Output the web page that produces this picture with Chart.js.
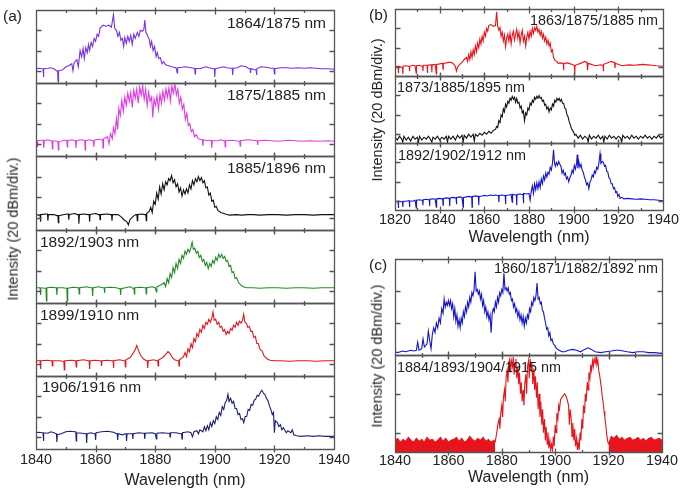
<!DOCTYPE html>
<html><head><meta charset="utf-8">
<script src="https://cdn.jsdelivr.net/npm/chart.js@4.4.1/dist/chart.umd.min.js"></script>
<style>
html,body{margin:0;padding:0;background:#fff}
#root{position:relative;width:685px;height:495px;overflow:hidden;font-family:"Liberation Sans",Arial,sans-serif;color:#222}
#root canvas{position:absolute}
.t{position:absolute;white-space:nowrap;line-height:1;transform:translateY(-50%)}
.t.r{transform:translate(-100%,-50%)}
.v{position:absolute;white-space:nowrap;line-height:1;transform:translate(-50%,-50%) rotate(-90deg)}
</style></head><body><div id="root"></div>
<script>
// ---------------- data (wavelength nm, intensity dBm) ----------------
const specA1 = [[1840,-58],[1841,-57.5],[1842,-58],[1842.35,-58],[1842.5,-66],[1842.65,-58],[1844,-57.5],[1845,-57],[1846,-58],[1847,-60],[1847.25,-60],[1847.4,-71],[1847.55,-60],[1849,-59],[1850,-56],[1851,-55],[1852,-53],[1852.4,-60],[1852.8,-52],[1853.7,-49],[1854.2,-56],[1854.8,-40],[1855.3,-46],[1855.8,-38],[1856.2,-48],[1856.7,-37],[1857.2,-42],[1857.6,-34],[1858,-40],[1858.5,-32],[1859,-36],[1859.5,-28],[1860,-31],[1860.5,-24],[1861,-26],[1861.5,-18],[1862.5,-15],[1863.5,-16],[1864.5,-15],[1865.3,-17],[1866,-4.5],[1866.4,-18],[1867,-20],[1867.5,-26],[1868,-22],[1868.5,-30],[1869,-28],[1869.4,-36],[1869.8,-27],[1870.3,-33],[1870.8,-26],[1871.3,-31],[1871.8,-25],[1872.3,-34],[1872.8,-24],[1873.3,-28],[1874,-22],[1874.5,-26],[1875,-20],[1875.7,-21],[1876.2,-19],[1876.5,-10],[1876.9,-22],[1877.4,-25],[1878,-29],[1878.4,-36],[1878.8,-31],[1879.3,-40],[1879.8,-36],[1880.3,-46],[1880.7,-42],[1881.2,-48],[1881.7,-47],[1882.3,-53],[1882.8,-51],[1883.5,-54],[1884.5,-55],[1885.5,-56],[1887,-57],[1887.25,-57],[1887.4,-62],[1887.55,-57],[1889,-56.5],[1890,-56],[1891,-56.5],[1892,-57],[1893,-57.5],[1893.25,-57.5],[1893.4,-63],[1893.55,-57.5],[1895,-58],[1896,-57],[1897,-56],[1898,-57],[1899.5,-58],[1899.85,-58],[1900,-66],[1900.15,-58],[1901.5,-57],[1903,-56],[1904,-57],[1905.5,-57.5],[1905.85,-57.5],[1906,-64],[1906.15,-57.5],[1907.5,-57],[1909,-55],[1910.5,-56],[1911.5,-58],[1911.85,-58],[1912,-62],[1912.15,-58],[1913.5,-59],[1913.85,-59],[1914,-64],[1914.15,-58],[1915.5,-56],[1917,-56.5],[1919,-57.5],[1919.85,-57.5],[1920,-63],[1920.15,-58],[1922,-57],[1924,-57],[1926,-57.5],[1928,-57],[1930,-57.5],[1932,-57],[1934,-57.5],[1936,-58],[1938,-58],[1940,-58.5]];
const specA2 = [[1840,-57],[1840.35,-57],[1840.5,-63],[1840.65,-57],[1842,-56.5],[1842.45,-56.5],[1842.6,-64],[1842.75,-57],[1844,-56],[1845,-57],[1845.35,-57],[1845.5,-65],[1845.65,-57],[1847,-57.5],[1847.35,-57.5],[1847.5,-66],[1847.65,-58],[1849,-57],[1850,-56.5],[1850.35,-56.5],[1850.5,-63],[1850.65,-57],[1852,-56],[1853,-57],[1853.25,-57],[1853.4,-64],[1853.55,-57],[1855,-56],[1856,-56.5],[1856.35,-56.5],[1856.5,-66],[1856.65,-57],[1858,-56],[1859,-57],[1859.25,-57],[1859.4,-63],[1859.55,-56.5],[1861,-55.5],[1862,-56],[1862.35,-56],[1862.5,-64],[1862.65,-55],[1864,-53],[1864.5,-60],[1865,-50],[1865.6,-55],[1866,-44],[1866.5,-50],[1867,-35],[1867.4,-46],[1867.8,-25],[1868.3,-32],[1868.8,-17],[1869.3,-28],[1869.8,-14],[1870.3,-22],[1870.8,-10],[1871.3,-18],[1871.8,-9],[1872.3,-24],[1872.8,-7],[1873.3,-15],[1873.8,-6],[1874.3,-20],[1874.8,-4],[1875.3,-12],[1875.8,-3],[1876.3,-16],[1876.8,-6],[1877.3,-22],[1877.8,-9],[1878.3,-18],[1878.8,-14],[1879.2,-34],[1879.6,-16],[1880.1,-22],[1880.6,-13],[1881.1,-26],[1881.6,-11],[1882.1,-20],[1882.6,-8],[1883.1,-17],[1883.6,-6],[1884.1,-14],[1884.6,-5],[1885.1,-18],[1885.6,-3],[1886.1,-10],[1886.6,-1],[1887.1,-12],[1887.6,-6],[1888.1,-20],[1888.6,-14],[1889.1,-26],[1889.6,-21],[1890.1,-36],[1890.6,-30],[1891.1,-42],[1891.6,-40],[1892.1,-48],[1892.6,-46],[1893.2,-53],[1893.8,-51],[1894.5,-55],[1895.5,-56],[1895.85,-56],[1896,-62],[1896.15,-56],[1897.5,-57],[1898.5,-56.5],[1898.85,-56.5],[1899,-64],[1899.15,-57],[1901,-57],[1902,-56],[1903,-57],[1903.35,-57],[1903.5,-63],[1903.65,-57],[1906,-56.5],[1907,-57],[1908,-57.5],[1908.35,-57.5],[1908.5,-62],[1908.65,-57],[1911,-56],[1913,-56.5],[1914,-57],[1914.25,-57],[1914.4,-61],[1914.55,-57],[1917,-56.5],[1919,-57],[1921,-57.5],[1923,-57],[1925,-56.5],[1927,-57],[1929,-57.5],[1932,-57],[1935,-57.5],[1938,-57],[1940,-57.5]];
const specA3 = [[1840,-57],[1841,-57.5],[1841.35,-57.5],[1841.5,-64],[1841.65,-57],[1843.5,-56.5],[1843.85,-56.5],[1844,-63],[1844.15,-57],[1846,-57],[1847,-58],[1847.35,-58],[1847.5,-65],[1847.65,-58],[1849.5,-57],[1850.5,-56.5],[1850.85,-56.5],[1851,-62],[1851.15,-57],[1853,-56],[1854,-57],[1854.25,-57],[1854.4,-66],[1854.55,-57],[1856,-56.5],[1857.5,-57],[1857.85,-57],[1858,-64],[1858.15,-57],[1860,-56],[1861,-57],[1861.35,-57],[1861.5,-62],[1861.65,-57],[1864,-56.5],[1865,-57],[1865.35,-57],[1865.5,-63],[1865.65,-57],[1867.5,-57],[1868.5,-59],[1869.5,-62],[1870.5,-64],[1871,-67],[1871.5,-62],[1872.5,-59],[1873.5,-57],[1873.85,-57],[1874,-63],[1874.15,-57],[1875.5,-56.5],[1876.5,-57],[1876.85,-57],[1877,-63],[1877.15,-56],[1878,-54],[1878.5,-50],[1879,-55],[1879.5,-44],[1880,-47],[1880.5,-36],[1881,-42],[1881.5,-30],[1882,-37],[1882.5,-27],[1883,-33],[1883.5,-25],[1884,-28],[1884.5,-22],[1885,-24],[1885.5,-19],[1886,-26],[1886.5,-23],[1887,-30],[1887.5,-27],[1888,-35],[1888.5,-31],[1889,-39],[1889.5,-33],[1890,-37],[1890.5,-32],[1891,-36],[1891.5,-28],[1892,-32],[1892.5,-24],[1893,-28],[1893.5,-22],[1894,-25],[1894.5,-20],[1895,-24],[1895.5,-21],[1896,-26],[1896.5,-24],[1897,-31],[1897.5,-30],[1898,-38],[1898.5,-36],[1899,-44],[1899.5,-43],[1900,-50],[1900.5,-49],[1901,-53],[1902,-55],[1903,-56],[1904,-57],[1905,-57.5],[1907,-57],[1909,-57.5],[1911,-57],[1913,-57],[1915,-57.5],[1918,-57],[1921,-57],[1924,-57.5],[1927,-57],[1930,-57],[1933,-57.5],[1936,-57],[1940,-57]];
const specA4 = [[1840,-57],[1841,-57],[1841.35,-57],[1841.5,-64],[1841.65,-57],[1843,-57.5],[1843.35,-57.5],[1843.5,-70],[1843.65,-57],[1845.5,-56.5],[1846.5,-57],[1846.85,-57],[1847,-64],[1847.15,-57],[1849,-57],[1850,-57.5],[1850.35,-57.5],[1850.5,-70],[1850.65,-57.5],[1852.5,-56.5],[1854,-57],[1854.35,-57],[1854.5,-63],[1854.65,-57],[1857,-56],[1858.5,-57],[1858.85,-57],[1859,-65],[1859.15,-57],[1861,-56],[1862.5,-57],[1862.85,-57],[1863,-62],[1863.15,-57],[1865,-56.5],[1867,-57],[1868,-58],[1868.25,-58],[1868.4,-64],[1868.55,-58],[1870,-57],[1871.5,-56],[1872.5,-57.5],[1872.85,-57.5],[1873,-63],[1873.15,-57],[1875,-56.5],[1876.5,-57],[1876.85,-57],[1877,-63],[1877.15,-57],[1879,-56],[1880,-57],[1880.25,-57],[1880.4,-61],[1880.55,-56],[1882,-54],[1883,-52],[1883.5,-56],[1884,-48],[1884.5,-52],[1885,-43],[1885.5,-47],[1886,-37],[1886.5,-42],[1887,-33],[1887.5,-38],[1888,-29],[1888.5,-33],[1889,-25],[1889.5,-28],[1890,-21],[1890.5,-24],[1891,-19],[1891.5,-22],[1892,-17],[1892.4,-12],[1892.8,-19],[1893.3,-18],[1893.8,-23],[1894.3,-21],[1894.8,-27],[1895.3,-25],[1895.8,-31],[1896.3,-29],[1896.8,-35],[1897.3,-32],[1897.8,-38],[1898.3,-33],[1898.8,-36],[1899.3,-30],[1899.8,-33],[1900.3,-27],[1900.8,-30],[1901.3,-24],[1901.8,-27],[1902.3,-24],[1902.8,-28],[1903.3,-26],[1903.8,-31],[1904.3,-30],[1904.8,-36],[1905.3,-35],[1905.8,-42],[1906.3,-41],[1906.8,-48],[1907.3,-47],[1908,-52],[1909,-55],[1910,-56.5],[1911,-57],[1913,-57],[1915,-57.5],[1918,-57],[1921,-57],[1924,-57.5],[1927,-57],[1930,-57],[1933,-57.5],[1936,-57],[1940,-57]];
const specA5 = [[1840,-57],[1841,-57],[1841.35,-57],[1841.5,-65],[1841.65,-57],[1844,-56.5],[1845,-57],[1845.35,-57],[1845.5,-62],[1845.65,-57],[1848,-57],[1849,-57.5],[1849.35,-57.5],[1849.5,-66],[1849.65,-57],[1852,-56.5],[1853,-57],[1853.35,-57],[1853.5,-63],[1853.65,-57],[1856,-56],[1857.5,-57],[1857.85,-57],[1858,-65],[1858.15,-57],[1860,-56.5],[1861.5,-57],[1861.85,-57],[1862,-62],[1862.15,-57],[1864,-56.5],[1865.5,-57],[1865.85,-57],[1866,-64],[1866.15,-57],[1868,-56],[1869.5,-57],[1869.85,-57],[1870,-63],[1870.15,-56],[1871.5,-54],[1872.5,-50],[1873.3,-46],[1873.8,-42],[1874.3,-46],[1875,-51],[1876,-55],[1877,-57],[1877.35,-57],[1877.5,-64],[1877.65,-57],[1879.5,-56],[1880.5,-57],[1880.85,-57],[1881,-62],[1881.15,-56],[1882.5,-54],[1883.5,-51],[1884.3,-48],[1885,-50],[1885.8,-54],[1886.5,-56],[1887.5,-57],[1887.85,-57],[1888,-62],[1888.15,-56],[1889.5,-53],[1890,-49],[1890.5,-53],[1891,-45],[1891.5,-48],[1892,-40],[1892.5,-44],[1893,-35],[1893.5,-38],[1894,-30],[1894.5,-33],[1895,-26],[1895.5,-29],[1896,-22],[1896.5,-25],[1897,-19],[1897.5,-21],[1898,-16],[1898.5,-19],[1899,-15],[1899.4,-9],[1899.8,-17],[1900.3,-16],[1900.8,-21],[1901.3,-19],[1901.8,-24],[1902.3,-23],[1902.8,-28],[1903.3,-26],[1903.8,-31],[1904.3,-28],[1904.8,-30],[1905.3,-25],[1905.8,-27],[1906.3,-22],[1906.8,-24],[1907.3,-19],[1907.8,-22],[1908.3,-18],[1908.8,-20],[1909.3,-17],[1909.7,-11],[1910.1,-19],[1910.6,-20],[1911.1,-24],[1911.6,-23],[1912.1,-28],[1912.6,-28],[1913.1,-34],[1913.6,-33],[1914.1,-40],[1914.6,-40],[1915.2,-46],[1915.8,-47],[1916.5,-52],[1917.5,-55],[1918.5,-56.5],[1920,-57],[1922,-57],[1925,-57.5],[1928,-57],[1931,-57],[1934,-57.5],[1937,-57],[1940,-57]];
const specA6 = [[1840,-56],[1841,-55.5],[1842,-56],[1842.35,-56],[1842.5,-64],[1842.65,-56],[1844,-56.5],[1845,-55],[1846,-56],[1846.85,-57],[1847,-65],[1847.15,-58],[1848.5,-57],[1850,-55],[1851.5,-54.5],[1853,-55],[1853.35,-55],[1853.5,-64],[1853.65,-56],[1855.5,-56.5],[1856.5,-57],[1856.85,-57],[1857,-66],[1857.15,-57],[1858.5,-56],[1859.5,-57],[1859.85,-57],[1860,-63],[1860.15,-56],[1862,-55],[1864,-54.5],[1866,-55.5],[1867,-57],[1867.25,-57],[1867.4,-63],[1867.55,-57],[1869,-58],[1870,-57],[1870.25,-57],[1870.4,-64],[1870.55,-57],[1872,-57],[1872.35,-57],[1872.5,-62],[1872.65,-57],[1874.5,-56],[1876,-56.5],[1876.35,-56.5],[1876.5,-62],[1876.65,-56.5],[1879,-56],[1880,-57],[1880.25,-57],[1880.4,-62],[1880.55,-56.5],[1882.5,-56],[1884,-56.5],[1884.85,-56.5],[1885,-60],[1885.15,-56],[1887,-56],[1888.5,-57],[1888.85,-57],[1889,-62],[1889.15,-56],[1891,-55],[1892,-56],[1892.5,-60],[1893,-55],[1894,-54],[1894.5,-57],[1895,-53],[1896,-55],[1896.5,-50],[1897,-54],[1897.5,-49],[1898,-53],[1898.5,-46],[1899,-50],[1899.5,-44],[1900,-47],[1900.5,-40],[1901,-43],[1901.5,-36],[1902,-39],[1902.5,-30],[1903,-33],[1903.5,-26],[1904,-24],[1904.4,-18],[1904.8,-25],[1905.3,-22],[1905.8,-27],[1906.3,-25],[1906.8,-32],[1907.3,-32],[1907.8,-38],[1908.3,-37],[1908.8,-43],[1909.3,-42],[1909.7,-46],[1910.2,-40],[1910.7,-40],[1911.2,-33],[1911.7,-34],[1912.2,-28],[1912.7,-29],[1913.2,-24],[1913.7,-23],[1914.2,-19],[1914.7,-20],[1915.3,-16],[1915.8,-14],[1916.3,-17],[1916.8,-18],[1917.3,-22],[1917.8,-24],[1918.3,-29],[1918.8,-33],[1919.3,-38],[1919.7,-36],[1920,-56],[1920.3,-44],[1921,-46],[1921.5,-50],[1922,-48],[1922.5,-53],[1923,-51],[1924,-56],[1924.5,-54],[1925.5,-56],[1926,-53],[1926.5,-58],[1927.5,-59],[1929,-59.5],[1931,-59],[1933,-59.5],[1935,-59],[1937,-59.5],[1940,-59.5]];

const specB1 = [[1820,-60],[1821,-59],[1821.35,-59],[1821.5,-66],[1821.65,-59],[1823,-60],[1823.35,-60],[1823.5,-67],[1823.65,-59],[1825,-58.5],[1826,-59],[1826.35,-59],[1826.5,-64],[1826.65,-59],[1828,-58],[1829,-58.5],[1829.35,-58.5],[1829.5,-66],[1829.65,-58.5],[1831,-58],[1832,-59],[1832.35,-59],[1832.5,-64],[1832.65,-58],[1834,-58],[1834.35,-58],[1834.5,-66],[1834.65,-58],[1836,-57.5],[1836.35,-57.5],[1836.5,-65],[1836.65,-57.5],[1838,-57],[1838.35,-57],[1838.5,-67],[1838.65,-57],[1840,-56.5],[1841,-56],[1841.35,-56],[1841.5,-62],[1841.65,-56],[1843,-55.5],[1844,-55],[1845,-55],[1846,-56],[1847,-59],[1847.5,-64],[1848,-60],[1849,-57],[1850,-55],[1851,-52],[1852,-50],[1852.5,-54],[1853,-47],[1853.5,-52],[1854,-44],[1854.5,-50],[1855,-42],[1855.5,-47],[1856,-38],[1856.5,-44],[1857,-35],[1857.5,-40],[1858,-31],[1858.5,-36],[1859,-28],[1859.5,-33],[1860,-24],[1860.5,-28],[1861,-20],[1861.5,-23],[1862,-17],[1863,-16],[1864,-18],[1865,-17],[1865.5,-3],[1866,-18],[1866.5,-22],[1867,-19],[1867.5,-28],[1868,-24],[1868.5,-33],[1869,-27],[1869.5,-39],[1870,-30],[1870.5,-26],[1871,-33],[1871.5,-25],[1872,-36],[1872.5,-27],[1873,-23],[1873.5,-32],[1874,-26],[1874.5,-21],[1875,-30],[1875.5,-24],[1876,-35],[1876.5,-27],[1877,-22],[1877.5,-33],[1878,-28],[1878.5,-38],[1879,-29],[1879.5,-24],[1880,-31],[1880.5,-23],[1881,-28],[1881.5,-20],[1882,-25],[1882.5,-19],[1883,-22],[1883.5,-18],[1884,-24],[1884.5,-21],[1885,-27],[1885.5,-23],[1886,-30],[1886.5,-26],[1887,-33],[1887.5,-29],[1888,-36],[1888.5,-32],[1889,-38],[1889.5,-35],[1890,-44],[1890.5,-42],[1891,-50],[1891.6,-53],[1892.5,-54],[1893,-56],[1894,-55.5],[1895,-56],[1895.35,-56],[1895.5,-63],[1895.65,-56],[1897,-55.5],[1898,-56],[1899,-57],[1900,-58],[1900.35,-58],[1900.5,-67],[1900.65,-58],[1902,-57],[1903,-56],[1904,-55],[1905,-54],[1906,-55],[1906.15,-55],[1906.3,-63],[1906.45,-56],[1908,-57],[1909,-58],[1910,-58.5],[1911,-58],[1912,-57.5],[1913,-58],[1913.15,-58],[1913.3,-64],[1913.45,-57],[1915,-55.5],[1916,-54.5],[1917,-54],[1918,-55],[1918.35,-55],[1918.5,-61],[1918.65,-56],[1920,-57],[1921,-58],[1922,-58.5],[1923,-58],[1925,-57.5],[1927,-58],[1929,-57.5],[1931,-57],[1933,-57.5],[1935,-58],[1937,-58.5],[1940,-59]];
const specB2 = [[1820,-63],[1821,-66],[1822,-62],[1823,-65],[1823.5,-68],[1824,-62],[1825,-66],[1826,-63],[1827,-67],[1828,-62],[1829,-65],[1830,-63],[1830.5,-68],[1831,-62],[1832,-66],[1833,-63],[1834,-65],[1835,-62],[1836,-66],[1836.5,-68],[1837,-63],[1838,-65],[1839,-62],[1840,-66],[1841,-63],[1842,-65],[1843,-62],[1843.5,-68],[1844,-62],[1845,-65],[1846,-62],[1847,-66],[1848,-61],[1849,-64],[1850,-61],[1850.5,-68],[1851,-61],[1852,-64],[1853,-60],[1854,-63],[1855,-60],[1855.5,-67],[1856,-60],[1857,-62],[1858,-59],[1859,-61],[1860,-58],[1861,-60],[1862,-57],[1863,-59],[1864,-56],[1865,-55],[1865.5,-52],[1866,-53],[1866.5,-46],[1867,-48],[1867.5,-40],[1868,-42],[1868.5,-34],[1869,-37],[1869.5,-29],[1870,-32],[1870.5,-26],[1871,-28],[1871.5,-23],[1872,-25],[1872.5,-21],[1873,-24],[1873.5,-22],[1874,-27],[1874.5,-23],[1875,-28],[1875.5,-27],[1876,-33],[1876.5,-31],[1877,-38],[1877.5,-36],[1878,-46],[1878.5,-38],[1879,-40],[1879.5,-33],[1880,-35],[1880.5,-28],[1881,-30],[1881.5,-25],[1882,-27],[1882.5,-22],[1883,-24],[1883.5,-21],[1884,-23],[1884.5,-20],[1885,-23],[1885.5,-22],[1886,-26],[1886.5,-25],[1887,-30],[1887.5,-29],[1888,-34],[1888.5,-32],[1889,-37],[1889.5,-33],[1890,-35],[1890.5,-29],[1891,-31],[1891.5,-25],[1892,-27],[1892.5,-23],[1893,-25],[1893.5,-23],[1894,-26],[1894.5,-24],[1895,-28],[1895.5,-28],[1896,-33],[1896.5,-34],[1897,-40],[1897.5,-42],[1898,-47],[1898.5,-50],[1899,-54],[1899.5,-56],[1900,-58],[1900.5,-61],[1901,-60],[1902,-64],[1903,-61],[1904,-65],[1905,-62],[1906,-64],[1906.5,-68],[1907,-61],[1908,-65],[1909,-62],[1910,-64],[1911,-61],[1912,-65],[1913,-62],[1913.5,-68],[1914,-62],[1915,-65],[1916,-61],[1917,-64],[1918,-62],[1919,-65],[1920,-62],[1921,-64],[1921.5,-68],[1922,-61],[1923,-64],[1924,-62],[1925,-65],[1926,-61],[1927,-64],[1928,-62],[1929,-65],[1930,-62],[1931,-64],[1932,-61],[1933,-64],[1934,-62],[1935,-65],[1936,-62],[1937,-64],[1938,-61],[1939,-64],[1940,-62]];
const specB3 = [[1820,-61],[1821,-60],[1821.35,-60],[1821.5,-67],[1821.65,-60],[1823,-60.5],[1823.35,-60.5],[1823.5,-66],[1823.65,-60],[1825,-60],[1826,-59.5],[1826.35,-59.5],[1826.5,-66],[1826.65,-59.5],[1828,-60],[1829,-59],[1829.35,-59],[1829.5,-67],[1829.65,-59],[1831,-58.5],[1832,-59],[1832.35,-59],[1832.5,-64],[1832.65,-58.5],[1834,-58],[1835,-58.5],[1835.35,-58.5],[1835.5,-65],[1835.65,-58],[1837,-57.5],[1838,-58],[1838.35,-58],[1838.5,-66],[1838.65,-57.5],[1840,-57],[1841,-57.5],[1841.35,-57.5],[1841.5,-64],[1841.65,-57],[1843,-56.5],[1844,-57],[1844.35,-57],[1844.5,-65],[1844.65,-56.5],[1846,-56],[1847,-56.5],[1847.35,-56.5],[1847.5,-63],[1847.65,-56],[1849,-55.5],[1850,-56],[1850.35,-56],[1850.5,-66],[1850.65,-56],[1852,-55.5],[1853,-55],[1854,-55.5],[1854.35,-55.5],[1854.5,-66],[1854.65,-55],[1856,-54.5],[1857,-55],[1857.35,-55],[1857.5,-64],[1857.65,-55],[1859,-54.5],[1860,-54],[1861,-54.5],[1862,-54],[1863,-53.5],[1864,-54],[1865,-53.5],[1866,-54],[1866.35,-54],[1866.5,-61],[1866.65,-54],[1868,-53.5],[1869,-54],[1869.35,-54],[1869.5,-63],[1869.65,-54],[1871,-53.5],[1872,-53],[1872.35,-53],[1872.5,-61],[1872.65,-53],[1874,-53.5],[1874.35,-53.5],[1874.5,-64],[1874.65,-53],[1876,-52.5],[1877,-53],[1877.35,-53],[1877.5,-62],[1877.65,-52],[1879,-52.5],[1880,-52],[1880.5,-59],[1881,-50],[1881.5,-44],[1882,-52],[1882.5,-42],[1883,-48],[1883.5,-41],[1884,-47],[1884.5,-40],[1885,-46],[1885.5,-37],[1886,-42],[1886.5,-34],[1887,-38],[1887.5,-31],[1888,-35],[1888.5,-30],[1889,-32],[1889.5,-25],[1890,-28],[1890.5,-21],[1891,-7],[1891.4,-20],[1891.8,-24],[1892.3,-20],[1892.8,-23],[1893.3,-19],[1893.8,-22],[1894.3,-24],[1894.8,-31],[1895.3,-28],[1895.8,-33],[1896.3,-31],[1896.8,-37],[1897.3,-35],[1897.8,-40],[1898.3,-36],[1898.8,-33],[1899.3,-28],[1899.8,-31],[1900.3,-23],[1900.8,-27],[1901.3,-21],[1901.6,-12],[1901.9,-26],[1902.3,-19],[1902.8,-25],[1903.3,-22],[1903.8,-28],[1904.3,-30],[1904.8,-35],[1905.3,-38],[1905.8,-43],[1906.3,-41],[1906.8,-47],[1907.3,-40],[1907.8,-38],[1908.3,-33],[1908.8,-35],[1909.3,-29],[1909.8,-31],[1910.3,-25],[1910.8,-27],[1911.3,-21],[1911.8,-11],[1912.2,-21],[1912.8,-19],[1913.3,-20],[1913.8,-24],[1914.3,-23],[1914.8,-29],[1915.3,-30],[1915.8,-36],[1916.3,-37],[1916.8,-42],[1917.3,-42],[1917.8,-47],[1918.3,-46],[1918.8,-51],[1919.3,-50],[1919.8,-55],[1920.3,-53],[1920.8,-57],[1921.5,-56],[1922.5,-57.5],[1924,-57],[1926,-57.5],[1928,-58],[1930,-57.5],[1932,-58],[1934,-58.5],[1936,-58.5],[1938,-59],[1940,-59.5]];

const specC1 = [[1840,-58],[1841,-58.5],[1842,-58],[1843,-57.5],[1844,-58],[1845,-57.5],[1846,-57],[1847,-57.5],[1848,-57],[1848.5,-52],[1849,-57],[1850,-56],[1850.5,-50],[1851,-55],[1852,-53],[1852.5,-45],[1853,-51],[1853.5,-56],[1854,-47],[1854.5,-43],[1855,-46],[1855.5,-40],[1856,-43],[1856.5,-37],[1857,-40],[1857.5,-31],[1858,-34],[1858.4,-25],[1858.8,-30],[1859.2,-27],[1859.6,-29],[1860,-26],[1860.4,-29],[1860.8,-26],[1861.2,-31],[1861.6,-28],[1862,-36],[1862.4,-31],[1862.8,-39],[1863.2,-35],[1863.6,-42],[1864,-38],[1864.4,-43],[1864.8,-37],[1865.2,-40],[1865.6,-33],[1866,-36],[1866.4,-30],[1866.8,-33],[1867.2,-27],[1867.6,-30],[1868,-24],[1868.4,-27],[1868.8,-21],[1869.2,-23],[1869.6,-19],[1870,-8],[1870.4,-20],[1870.8,-19],[1871.2,-22],[1871.6,-20],[1872,-25],[1872.4,-22],[1872.8,-29],[1873.2,-26],[1873.6,-33],[1874,-30],[1874.4,-36],[1874.8,-33],[1875.2,-38],[1875.6,-35],[1876,-46],[1876.4,-34],[1876.8,-31],[1877.2,-33],[1877.6,-27],[1878,-30],[1878.4,-24],[1878.8,-27],[1879.2,-21],[1879.6,-23],[1880,-19],[1880.4,-21],[1880.8,-9],[1881.2,-19],[1881.6,-18],[1882,-20],[1882.4,-18],[1882.8,-22],[1883.2,-21],[1883.6,-26],[1884,-25],[1884.4,-30],[1884.8,-28],[1885.2,-33],[1885.6,-31],[1886,-36],[1886.4,-33],[1886.8,-38],[1887.2,-35],[1887.6,-40],[1888,-36],[1888.4,-42],[1888.8,-37],[1889.2,-40],[1889.6,-35],[1890,-37],[1890.4,-31],[1890.8,-33],[1891.2,-27],[1891.6,-29],[1892,-24],[1892.4,-26],[1892.8,-23],[1893.2,-15],[1893.6,-25],[1894,-24],[1894.4,-28],[1894.8,-27],[1895.2,-32],[1895.6,-33],[1896,-37],[1896.4,-40],[1896.8,-44],[1897.2,-43],[1897.6,-48],[1898,-46],[1898.4,-51],[1898.8,-50],[1899.3,-53],[1899.8,-54],[1900.5,-56],[1901.5,-57],[1902.5,-58],[1903.5,-58],[1905,-57],[1906.5,-56.5],[1908,-57],[1909.5,-58],[1911,-56.5],[1912.3,-55.5],[1913.5,-56.5],[1915,-58],[1917,-58.5],[1919,-58],[1921,-57.5],[1922.5,-57],[1924,-57],[1925.5,-57.5],[1927,-58],[1929,-58.5],[1931,-58],[1933,-58],[1935,-58.5],[1937,-58.5],[1940,-59]];
const floorC2Left = [[1840,-44],[1841,-43],[1842,-45],[1843,-43.5],[1844,-44.5],[1845,-42.5],[1846,-44],[1847,-45],[1848,-43],[1849,-44.5],[1850,-43.5],[1851,-45],[1852,-42.5],[1853,-44],[1854,-43.5],[1855,-45],[1856,-44],[1857,-42.5],[1858,-44.5],[1859,-43],[1860,-45],[1861,-44],[1862,-43.5],[1863,-42.5],[1864,-44.5],[1865,-43],[1866,-45],[1867,-44],[1868,-42],[1869,-43.5],[1870,-44.5],[1871,-43],[1872,-44],[1873,-42.5],[1874,-44.5],[1875,-43.5],[1876,-45],[1877,-44],[1877.5,-45]];
const specC2 = [[1877.5,-45],[1878,-41],[1878.5,-36],[1879,-33],[1879.3,-38],[1879.6,-30],[1880,-26],[1880.3,-32],[1880.6,-22],[1881,-18],[1881.3,-24],[1881.6,-12],[1882,-8],[1882.3,-14],[1882.6,-4],[1883,-2],[1883.3,-9],[1883.6,-3],[1884,-6],[1884.3,-1],[1884.6,-10],[1885,-4],[1885.3,-2],[1885.6,-12],[1886,-6],[1886.3,-15],[1886.6,-9],[1887,-20],[1887.3,-14],[1887.6,-24],[1888,-18],[1888.3,-26],[1888.6,-15],[1889,-10],[1889.3,-20],[1889.6,-6],[1890,-3],[1890.3,-12],[1890.6,-2],[1891,-8],[1891.3,-4],[1891.6,-15],[1892,-7],[1892.3,-18],[1892.6,-11],[1893,-22],[1893.3,-14],[1893.6,-28],[1894,-20],[1894.3,-32],[1894.6,-24],[1895,-36],[1895.3,-28],[1895.6,-40],[1896,-33],[1896.3,-44],[1896.6,-37],[1897,-46],[1897.3,-40],[1897.6,-48],[1898,-44],[1898.3,-49],[1898.6,-46],[1899,-49],[1899.3,-42],[1899.6,-47],[1900,-36],[1900.3,-40],[1900.6,-30],[1901,-33],[1901.3,-26],[1901.6,-28],[1902,-23],[1902.5,-22],[1903,-21],[1903.5,-20],[1904,-21],[1904.5,-23],[1905,-26],[1905.3,-36],[1905.6,-28],[1906,-33],[1906.3,-42],[1906.6,-35],[1907,-44],[1907.3,-38],[1907.6,-47],[1908,-43],[1908.3,-49],[1908.6,-45],[1909,-49],[1909.3,-40],[1909.6,-44],[1910,-33],[1910.3,-38],[1910.6,-26],[1911,-30],[1911.3,-20],[1911.6,-24],[1912,-14],[1912.3,-18],[1912.6,-9],[1913,-12],[1913.3,-5],[1913.6,-8],[1914,-3],[1914.3,-6],[1914.6,-2],[1915,-4],[1915.3,-1],[1915.6,-5],[1916,-3],[1916.3,-8],[1916.6,-10],[1917,-14],[1917.3,-17],[1917.6,-21],[1918,-25],[1918.3,-29],[1918.6,-32],[1919,-37],[1919.3,-41],[1919.6,-44],[1920,-46]];
const floorC2Right = [[1920,-46],[1921,-42],[1922,-43],[1923,-41.5],[1924,-43.5],[1925,-42.5],[1926,-44],[1927,-43],[1928,-42.5],[1929,-44],[1930,-43.5],[1931,-42.5],[1932,-44],[1933,-43],[1934,-44.5],[1935,-43],[1936,-42.5],[1937,-44],[1938,-43.5],[1939,-43],[1940,-44]];

// labels / ticks
const labelsA = ['1864/1875 nm','1875/1885 nm','1885/1896 nm','1892/1903 nm','1899/1910 nm','1906/1916 nm'];
const labelsB = ['1863/1875/1885 nm','1873/1885/1895 nm','1892/1902/1912 nm'];
const labelsC = ['1860/1871/1882/1892 nm','1884/1893/1904/1915 nm'];
const panelTags = ['(a)','(b)','(c)'];
const xMajorA = [1840,1860,1880,1900,1920,1940];
const xMinorA = [1850,1870,1890,1910,1930];
const xMajorB = [1820,1840,1860,1880,1900,1920,1940];
const xMinorB = [1830,1850,1870,1890,1910,1930];
const yTicksAB = [-60,-40,-20];
const yTicksC = [-40,-20];
const xTitle = 'Wavelength (nm)';
const yTitle = 'Intensity (20 dBm/div.)';

// ---------------- styling / layout ----------------
const FONT = '"Liberation Sans", Arial, sans-serif';
Chart.defaults.font.family = FONT;
const FRAME = '#555';
const COL = {purple:'#7a2fe3', magenta:'#e03ae6', black:'#111', green:'#238a23', red:'#e8141c', navy:'#1c1f78', blue:'#1515cc'};
const PADX = 26, PADT = 5;
const root = document.getElementById('root');

const framePlugin = {
  id: 'frame',
  afterDatasetsDraw(chart, args, o) {
    const {ctx, chartArea: a, scales: {x, y}} = chart;
    ctx.save();
    ctx.strokeStyle = FRAME; ctx.lineWidth = 1.3;
    const L = Math.round(a.left) + 0.5, R = Math.round(a.right) + 0.5, T = Math.round(a.top) + 0.5, B = Math.round(a.bottom) + 0.5;
    ctx.beginPath();
    ctx.moveTo(L, T); ctx.lineTo(R, T); ctx.lineTo(R, B); ctx.lineTo(L, B); ctx.closePath();
    (o.major || []).forEach(v => {
      const px = Math.round(x.getPixelForValue(v)) + 0.5;
      ctx.moveTo(px, T - 3); ctx.lineTo(px, T + 4);
      ctx.moveTo(px, B - 4); ctx.lineTo(px, B + 3);
    });
    (o.minor || []).forEach(v => {
      const px = Math.round(x.getPixelForValue(v)) + 0.5;
      ctx.moveTo(px, T); ctx.lineTo(px, T + 2.5);
      ctx.moveTo(px, B - 2.5); ctx.lineTo(px, B);
    });
    (o.yticks || []).forEach(v => {
      const py = Math.round(y.getPixelForValue(v)) + 0.5;
      ctx.moveTo(L, py); ctx.lineTo(L + 5, py);
      ctx.moveTo(R - 5, py); ctx.lineTo(R, py);
    });
    ctx.stroke();
    ctx.restore();
  }
};

function ds(pairs, color, fill) {
  return {data: pairs.map(p => ({x: p[0], y: p[1]})), borderColor: color, backgroundColor: color,
          borderWidth: 1.1, pointRadius: 0, tension: 0, fill: fill ? 'start' : false};
}

function makePlot(p) {
  const [l, t, w, h] = p.rect;
  const axisH = p.axis ? p.axis.height : 0;
  const padB = p.axis ? 2 : 5;
  const cw = w + 2 * PADX, ch = h + PADT + axisH + padB;
  const cv = document.createElement('canvas');
  cv.width = cw; cv.height = ch;
  cv.style.width = cw + 'px'; cv.style.height = ch + 'px';
  cv.style.left = (l - PADX) + 'px'; cv.style.top = (t - PADT) + 'px';
  root.appendChild(cv);
  const xOpts = {type: 'linear', min: p.xr[0], max: p.xr[1], display: !!p.axis};
  if (p.axis) {
    Object.assign(xOpts, {
      position: 'bottom',
      grid: {display: false, drawTicks: false}, border: {display: false},
      ticks: {stepSize: 20, autoSkip: false, maxRotation: 0, padding: p.axis.pad, color: '#222',
              font: {size: 14.4}, callback: v => (p.xMajor.includes(v) ? String(v) : '')},
      title: {display: true, text: xTitle, color: '#222', font: {size: 16}, padding: {top: 0, bottom: 0}},
      afterFit: s => { s.height = axisH; }
    });
  }
  const chart = new Chart(cv, {
    type: 'line',
    data: {datasets: p.sets},
    options: {
      responsive: false, animation: false, devicePixelRatio: 1, events: [],
      layout: {padding: {left: PADX, right: PADX, top: PADT, bottom: padB}},
      scales: {x: xOpts, y: {type: 'linear', min: p.yr[0], max: p.yr[1], display: false}},
      plugins: {legend: {display: false}, tooltip: {enabled: false},
                frame: {major: p.xMajor.filter(v => v > p.xr[0] && v < p.xr[1]), minor: p.xMinor, yticks: p.yticks}}
    },
    plugins: [framePlugin]
  });
  const ca = chart.chartArea;
  cv.style.left = (l - ca.left) + 'px';
  cv.style.top = (t - ca.top) + 'px';
  return chart;
}

const A_L = 36, A_W = 298, A_T = [10, 83, 156, 230, 303, 376, 449];
const specsA = [specA1, specA2, specA3, specA4, specA5, specA6];
const colsA = [COL.purple, COL.magenta, COL.black, COL.green, COL.red, COL.navy];
specsA.forEach((s, i) => makePlot({
  rect: [A_L, A_T[i], A_W, A_T[i + 1] - A_T[i]], xr: [1840, 1940], yr: [-72, 0],
  sets: [ds(s, colsA[i])], xMajor: xMajorA, xMinor: xMinorA, yticks: yTicksAB,
  axis: i === 5 ? {height: 41, pad: 2} : null
}));

const B_L = 395, B_W = 268, B_T = [9, 76, 143, 210];
const specsB = [specB1, specB2, specB3];
const colsB = [COL.red, COL.black, COL.blue];
specsB.forEach((s, i) => makePlot({
  rect: [B_L, B_T[i], B_W, B_T[i + 1] - B_T[i]], xr: [1820, 1940], yr: [-69, 0],
  sets: [ds(s, colsB[i])], xMajor: xMajorB, xMinor: xMinorB, yticks: yTicksAB,
  axis: i === 2 ? {height: 37, pad: 1} : null
}));

const C_L = 395, C_W = 267;
makePlot({rect: [C_L, 259, C_W, 96], xr: [1840, 1940], yr: [-60, 0],
  sets: [ds(specC1, COL.blue)], xMajor: xMajorA, xMinor: xMinorA, yticks: yTicksC, axis: null});
makePlot({rect: [C_L, 355, C_W, 97], xr: [1840, 1940], yr: [-50, 0],
  sets: [ds(floorC2Left, COL.red, true), ds(specC2, COL.red), ds(floorC2Right, COL.red, true)],
  xMajor: xMajorA, xMinor: xMinorA, yticks: yTicksC, axis: {height: 35, pad: 0}});

// ---------------- text ----------------
function txt(s, x, y, size, right, cls) {
  const d = document.createElement('div');
  d.className = cls || ('t' + (right ? ' r' : ''));
  d.textContent = s;
  d.style.left = x + 'px'; d.style.top = y + 'px'; d.style.fontSize = size + 'px';
  root.appendChild(d);
}
txt(labelsA[0], 326, 23, 15.5, true);
txt(labelsA[1], 326, 95, 15.5, true);
txt(labelsA[2], 326, 168, 15.5, true);
txt(labelsA[3], 40, 242, 15.5, false);
txt(labelsA[4], 40, 315, 15.5, false);
txt(labelsA[5], 42, 387, 15.5, false);
txt(labelsB[0], 658, 20, 14.4, true);
txt(labelsB[1], 397, 87, 14.4, false);
txt(labelsB[2], 398, 155, 14.4, false);
txt(labelsC[0], 658, 268, 14.4, true);
txt(labelsC[1], 397, 367, 14.4, false);
txt(panelTags[0], 3, 16, 15.5, false);
txt(panelTags[1], 369, 15, 15.5, false);
txt(panelTags[2], 369, 265, 15.5, false);
txt(yTitle, 13, 229, 14.5, false, 'v');
txt(yTitle, 377, 110, 14.5, false, 'v');
txt(yTitle, 377, 356, 14.5, false, 'v');
</script></body></html>
